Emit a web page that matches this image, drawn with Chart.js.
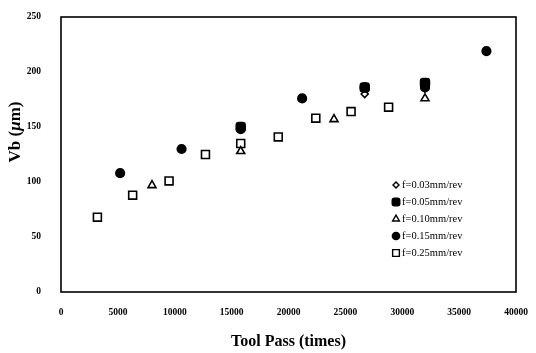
<!DOCTYPE html>
<html>
<head>
<meta charset="utf-8">
<script src="https://cdn.jsdelivr.net/npm/chart.js@4/dist/chart.umd.min.js"></script>
<style>
  html, body { margin: 0; padding: 0; background: #fff; }
  #wearChart { display: block; }
</style>
</head>
<body>
<canvas id="wearChart" width="536" height="353"></canvas>
<script>
// tool wear (Vb, um) against tool passes, one list per feed rate
const xTicks = [0, 5000, 10000, 15000, 20000, 25000, 30000, 35000, 40000];
const yTicks = [0, 50, 100, 150, 200, 250];

const f003 = [{ x: 15800, y: 134 }, { x: 26700, y: 180 }, { x: 32000, y: 185 }];
const f005 = [{ x: 15800, y: 150 }, { x: 26700, y: 186 }, { x: 32000, y: 190 }];
const f010 = [{ x: 8000, y: 97 }, { x: 15800, y: 128 }, { x: 24000, y: 157 }, { x: 32000, y: 176 }];
const f015 = [
    { x: 5200, y: 108 }, { x: 10600, y: 130 }, { x: 15800, y: 148 }, { x: 21200, y: 176 },
    { x: 26700, y: 186 }, { x: 32000, y: 186 }, { x: 37400, y: 219 }
];
const f025 = [
    { x: 3200, y: 68 }, { x: 6300, y: 88 }, { x: 9500, y: 101 }, { x: 12700, y: 125 },
    { x: 15800, y: 135 }, { x: 19100, y: 141 }, { x: 22400, y: 158 }, { x: 25500, y: 164 },
    { x: 28800, y: 168 }
];

const serif = "'Liberation Serif', 'Times New Roman', serif";

function series(label, data, style, radius, filled, order) {
    return {
        label: label,
        data: data,
        pointStyle: style,
        pointRadius: radius,
        pointHoverRadius: radius,
        pointBorderWidth: 1.6,
        borderColor: "#000",
        pointBorderColor: "#000",
        pointBackgroundColor: filled ? "#000" : "#fff",
        showLine: false,
        order: order
    };
}

const datasets = [
    series("f=0.03mm/rev", f003, "rectRot", 3.5, false, 2),
    series("f=0.05mm/rev", f005, "rectRounded", 5.2, true, 0),
    series("f=0.10mm/rev", f010, "triangle", 4.6, false, 1),
    series("f=0.15mm/rev", f015, "circle", 4.3, true, 0),
    series("f=0.25mm/rev", f025, "rect", 5.6, false, 1)
];

// frame, rotated y title and in-plot legend
const decorations = {
    id: "decorations",
    afterDraw(chart) {
        const { ctx, chartArea: a } = chart;
        ctx.save();
        ctx.strokeStyle = "#000";
        ctx.lineWidth = 1.6;
        ctx.strokeRect(a.left, a.top, a.right - a.left, a.bottom - a.top);

        // y title: Vb (μm) with italic mu
        ctx.translate(16, 132);
        ctx.rotate(-Math.PI / 2);
        ctx.fillStyle = "#000";
        ctx.textBaseline = "middle";
        const parts = [["Vb (", "bold"], ["\u03bc", "italic bold"], ["m)", "bold"]];
        let total = 0;
        parts.forEach(p => { ctx.font = p[1] + " 17px " + serif; total += ctx.measureText(p[0]).width; });
        let px = -total / 2;
        parts.forEach(p => {
            ctx.font = p[1] + " 17px " + serif;
            ctx.fillText(p[0], px, 0);
            px += ctx.measureText(p[0]).width;
        });
        ctx.restore();

        // legend
        ctx.save();
        const rowY = [185, 202, 219, 236, 253];
        ctx.font = "10.5px " + serif;
        ctx.textBaseline = "middle";
        chart.data.datasets.forEach((ds, i) => {
            const opts = {
                pointStyle: ds.pointStyle,
                radius: ds.pointRadius * 0.85,
                rotation: 0,
                borderWidth: 1.4
            };
            ctx.strokeStyle = "#000";
            ctx.fillStyle = ds.pointBackgroundColor;
            ctx.lineWidth = 1.4;
            Chart.helpers.drawPoint(ctx, opts, 396, rowY[i]);
            ctx.fillStyle = "#000";
            ctx.fillText(ds.label, 402, rowY[i] + 0.5);
        });
        ctx.restore();
    }
};

function noOverhang(s) {
    s.paddingLeft = 0;
    s.paddingRight = 0;
    s.paddingTop = 0;
    s.paddingBottom = 0;
}

new Chart(document.getElementById("wearChart"), {
    type: "scatter",
    data: { datasets: datasets },
    plugins: [decorations],
    options: {
        responsive: false,
        animation: false,
        layout: { padding: { top: 17, right: 20, left: 0, bottom: 0 } },
        plugins: { legend: { display: false }, tooltip: { enabled: false } },
        scales: {
            x: {
                type: "linear",
                min: xTicks[0],
                max: xTicks[xTicks.length - 1],
                afterBuildTicks: s => { s.ticks = xTicks.map(v => ({ value: v })); },
                afterFit: s => { s.height = 61; noOverhang(s); },
                grid: { display: false, drawTicks: false },
                border: { display: false },
                ticks: {
                    color: "#000", padding: 15, maxRotation: 0,
                    font: { family: serif, size: 9.5, weight: "bold" },
                    callback: v => String(v)
                },
                title: {
                    display: true,
                    text: "Tool Pass (times)",
                    color: "#000",
                    font: { family: serif, size: 16, weight: "bold" },
                    padding: { top: 0, bottom: 2 }
                }
            },
            y: {
                min: yTicks[0],
                max: yTicks[yTicks.length - 1],
                afterBuildTicks: s => { s.ticks = yTicks.map(v => ({ value: v })); },
                afterFit: s => { s.width = 61; noOverhang(s); },
                grid: { display: false, drawTicks: false },
                border: { display: false },
                ticks: {
                    color: "#000", padding: 20,
                    font: { family: serif, size: 9.5, weight: "bold" },
                    callback: v => String(v)
                }
            }
        }
    }
});
</script>
</body>
</html>
